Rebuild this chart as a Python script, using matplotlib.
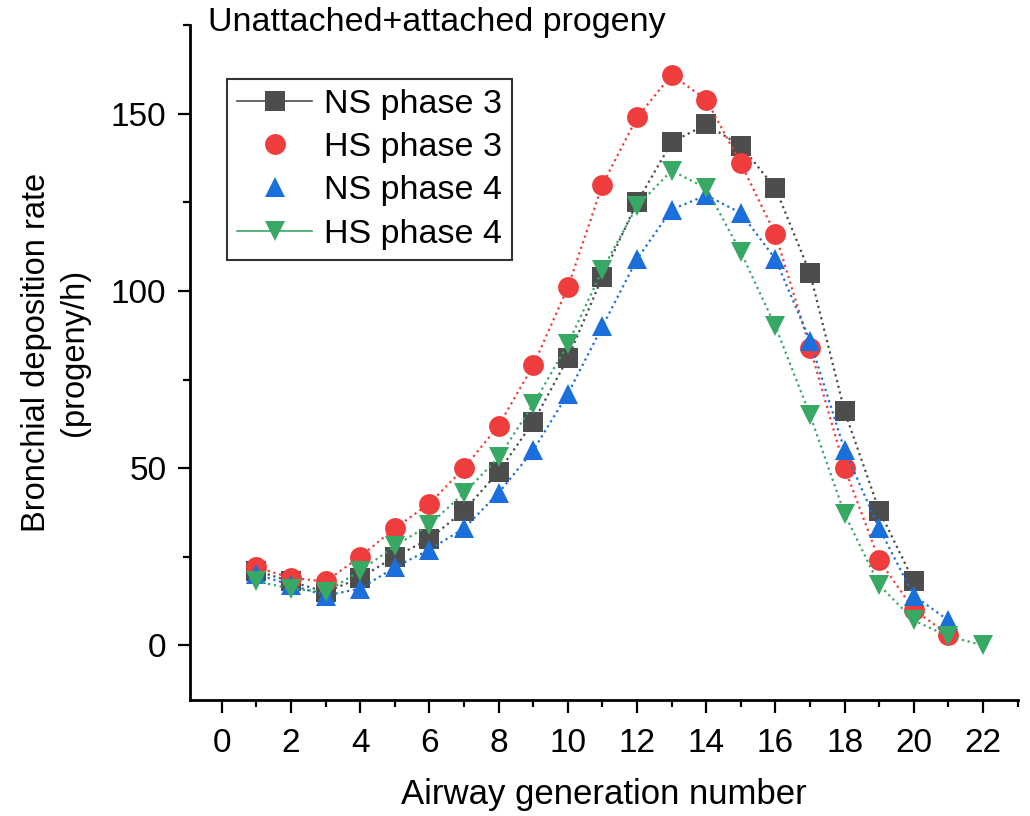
import numpy as np
import matplotlib.pyplot as plt
from matplotlib.lines import Line2D
from matplotlib.ticker import MultipleLocator

plt.rcParams['font.family'] = ['Liberation Sans', 'DejaVu Sans']

# Airway generations
gen = np.arange(1, 23)

# Deposition rates (progeny/h)
ns3_gen = np.arange(1, 21)
ns3 = [21, 18, 15, 19, 25, 30, 38, 49, 63, 81, 104, 125, 142, 147, 141, 129, 105, 66, 38, 18]
hs3_gen = np.arange(1, 22)
hs3 = [22, 19, 18, 25, 33, 40, 50, 62, 79, 101, 130, 149, 161, 154, 136, 116, 84, 50, 24, 10, 3]
ns4_gen = np.arange(1, 22)
ns4 = [20, 17, 14, 16, 22, 27, 33, 43, 55, 71, 90, 109, 123, 127, 122, 109, 86, 55, 33, 14, 7]
hs4_gen = gen
hs4 = [18, 16, 15, 21, 28, 34, 43, 53, 68, 85, 106, 124, 134, 129, 111, 90, 65, 37, 17, 7, 2.5, 0]

labels = ['NS phase 3', 'HS phase 3', 'NS phase 4', 'HS phase 4']
colors = ['#4d4d4d', '#ef3d3d', '#1b6fdd', '#37a965']
markers = ['s', 'o', '^', 'v']
sizes = [14, 15, 15, 15]

fig = plt.figure(figsize=(10.3, 8.16), dpi=100)
ax = fig.add_axes([0.1845, 0.142, 0.8035, 0.827])

series = [(ns3_gen, ns3), (hs3_gen, hs3), (ns4_gen, ns4), (hs4_gen, hs4)]
for (x, y), c, m, ms, lab in zip(series, colors, markers, sizes, labels):
    ax.plot(x, y, linestyle=':', linewidth=1.6, color=c, marker=m,
            markersize=ms, markeredgewidth=0, label=lab)

ax.set_xlim(-0.92, 23.0)
ax.set_ylim(-15.5, 175)
ax.xaxis.set_major_locator(MultipleLocator(2))
ax.xaxis.set_minor_locator(MultipleLocator(1))
ax.yaxis.set_major_locator(MultipleLocator(50))
ax.yaxis.set_minor_locator(MultipleLocator(25))

for side in ['top', 'right']:
    ax.spines[side].set_visible(False)
for side in ['left', 'bottom']:
    ax.spines[side].set_linewidth(2.0)

ax.tick_params(which='major', direction='out', length=9, width=1.6, labelsize=24, pad=8)
ax.tick_params(which='minor', direction='out', length=5, width=1.6)
ax.tick_params(axis='x', which='major', pad=11)

ax.set_xlabel('Airway generation number', fontsize=25, labelpad=14)
ax.set_ylabel('Bronchial deposition rate\n(progeny/h)', fontsize=23.5,
              linespacing=1.3)
ax.yaxis.set_label_coords(-0.121, 0.515)

fig.text(208 / 1030, 1 - 22 / 816, 'Unattached+attached progeny', fontsize=24.5,
         ha='left', va='center')

# legend: Origin draws the line only for the first and last entries
handles = [
    Line2D([], [], color=colors[0], linewidth=1.2, marker='s', markersize=14, markeredgewidth=0),
    Line2D([], [], color='none', marker='o', markerfacecolor=colors[1], markersize=15, markeredgewidth=0),
    Line2D([], [], color='none', marker='^', markerfacecolor=colors[2], markersize=15, markeredgewidth=0),
    Line2D([], [], color=colors[3], linewidth=1.2, marker='v', markersize=15, markeredgewidth=0),
]
leg = ax.legend(handles, labels, loc='upper left', bbox_to_anchor=(0.045, 0.921),
                borderaxespad=0, fontsize=24.5, frameon=True, fancybox=False,
                edgecolor='black', handlelength=2.2, labelspacing=0.36,
                handletextpad=0.35, borderpad=0.3)
leg.get_frame().set_linewidth(1.5)

fig.savefig('out.png', dpi=100)
